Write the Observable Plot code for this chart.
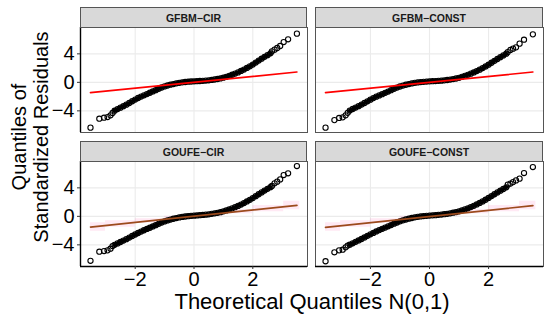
<!DOCTYPE html>
<html><head><meta charset="utf-8">
<script src="https://cdn.jsdelivr.net/npm/d3@7"></script>
<script src="https://cdn.jsdelivr.net/npm/@observablehq/plot@0.6"></script>
<style>
body{margin:0;background:#fff;}
#chart{position:relative;width:550px;height:320px;font-family:"Liberation Sans",Arial,sans-serif;overflow:hidden;background:#fff}
.strip{position:absolute;box-sizing:border-box;background:#d9d9d9;border:1px solid #555;display:flex;align-items:center;justify-content:center;font-size:10.5px;font-weight:bold;color:#1a1a1a}
.panel{position:absolute}
.title{position:absolute;color:#000;white-space:nowrap}
</style></head><body><div id="chart"></div>
<script>
// ---- data ----
const panelNames = ["GFBM\u2212CIR", "GFBM\u2212CONST", "GOUFE\u2212CIR", "GOUFE\u2212CONST"];
const xTicks = [-2, 0, 2];
const yTicks = [-4, 0, 4];
const xDomain = [-3.86, 3.86];
const yDomain = [-7.04, 7.7];

// theoretical quantiles N(0,1): 6 left-tail, 54 dense, 7 right-tail
const theoQuantiles = [-3.52,-3.22,-3.06,-2.94,-2.84,-2.77,
 -2.7,-2.6,-2.5,-2.4,-2.3,-2.2,-2.1,-2.0,-1.9,-1.8,-1.7,-1.6,-1.5,-1.4,-1.3,-1.2,-1.1,-1.0,-0.9,-0.8,-0.7,-0.6,-0.5,-0.4,-0.3,-0.2,-0.1,0.0,
 0.1,0.2,0.3,0.4,0.5,0.6,0.7,0.8,0.9,1.0,1.1,1.2,1.3,1.4,1.5,1.6,1.7,1.8,1.9,2.0,2.1,2.2,2.3,2.4,2.5,2.6,
 2.65,2.74,2.83,2.93,3.05,3.2,3.5];
const denseFirst = 6, denseLast = 59;

const sampleGFBM_CIR = [-6.36,-5.1,-4.96,-4.87,-4.63,-4.3,
 -3.98,-3.75,-3.55,-3.35,-3.13,-2.9,-2.65,-2.42,-2.2,-2.0,-1.82,-1.65,-1.46,-1.28,-1.1,-0.9,-0.72,-0.57,-0.44,-0.33,-0.24,-0.14,-0.06,0.0,0.05,0.09,0.12,0.15,
 0.17,0.19,0.22,0.25,0.29,0.34,0.4,0.47,0.55,0.65,0.78,0.92,1.07,1.23,1.4,1.6,1.8,2.02,2.25,2.5,2.78,3.06,3.32,3.58,3.82,4.08,
 4.35,4.59,4.82,5.1,5.66,6.04,6.84];
const sampleGFBM_CONST = [-6.36,-5.3,-5.0,-4.91,-4.63,-4.28,
 -3.96,-3.74,-3.54,-3.34,-3.12,-2.9,-2.66,-2.43,-2.21,-2.01,-1.83,-1.66,-1.47,-1.29,-1.1,-0.91,-0.73,-0.58,-0.45,-0.34,-0.24,-0.15,-0.07,-0.01,0.04,0.08,0.11,0.14,
 0.16,0.18,0.21,0.24,0.28,0.33,0.39,0.46,0.54,0.64,0.77,0.91,1.06,1.22,1.39,1.58,1.78,2.0,2.23,2.48,2.75,3.02,3.28,3.54,3.78,4.02,
 4.25,4.55,4.73,4.91,5.43,5.99,6.74];
const sampleGOUFE_CIR = [-6.24,-4.96,-4.87,-4.77,-4.54,-4.17,
 -4.0,-3.8,-3.6,-3.4,-3.2,-2.98,-2.76,-2.55,-2.34,-2.14,-1.95,-1.77,-1.6,-1.42,-1.24,-1.05,-0.87,-0.71,-0.57,-0.45,-0.34,-0.24,-0.15,-0.08,-0.02,0.03,0.07,0.1,
 0.13,0.16,0.2,0.24,0.29,0.35,0.42,0.5,0.59,0.7,0.83,0.97,1.12,1.29,1.47,1.66,1.87,2.09,2.32,2.57,2.83,3.1,3.36,3.62,3.86,4.1,
 4.26,4.63,4.87,5.19,5.8,6.04,7.06];
const sampleGOUFE_CONST = [-6.3,-5.05,-4.77,-4.68,-4.35,-4.1,
 -3.98,-3.78,-3.58,-3.38,-3.18,-2.96,-2.74,-2.53,-2.32,-2.12,-1.93,-1.75,-1.58,-1.4,-1.22,-1.03,-0.86,-0.7,-0.56,-0.44,-0.33,-0.23,-0.14,-0.07,-0.01,0.04,0.08,0.11,
 0.14,0.17,0.21,0.25,0.3,0.36,0.43,0.51,0.6,0.71,0.84,0.98,1.13,1.3,1.48,1.67,1.88,2.1,2.33,2.58,2.84,3.1,3.36,3.6,3.84,4.08,
 4.45,4.6,4.81,5.05,5.29,6.08,6.92];

// reference (qq) lines: end points
const lineX = [-3.52, 3.5];
const lineGFBM_CIR = [-1.45, 1.45];
const lineGFBM_CONST = [-1.45, 1.45];
const lineGOUFE_CIR = [-1.5, 1.54];
const lineGOUFE_CONST = [-1.54, 1.5];

// confidence band (GOUFE panels)
const bandX = [-3.52, -2.5, -1.5, -0.5, 0.5, 1.5, 2.5, 3.6];
const bandLo = [-2.1, -1.52, -0.94, -0.43, 0.01, 0.36, 0.64, 0.93];
const bandHi = [-0.9, -0.62, -0.34, 0.01, 0.45, 0.96, 1.54, 2.13];

// ---- layout ----
const samples = [sampleGFBM_CIR, sampleGFBM_CONST, sampleGOUFE_CIR, sampleGOUFE_CONST];
const lines = [lineGFBM_CIR, lineGFBM_CONST, lineGOUFE_CIR, lineGOUFE_CONST];
const lineColors = ["#ff0000", "#ff0000", "#9c4a1c", "#9c4a1c"];
const hasBand = [false, false, true, true];

const colLeft = [80, 315], colWidth = [227, 228];
const rowTop = [27, 161], plotH = 105, stripH = 20;
const chart = document.getElementById("chart");
const FONT = '"Liberation Sans", Arial, sans-serif';

panelNames.forEach((name, i) => {
  const col = i % 2, row = Math.floor(i / 2);
  const pts = theoQuantiles.map((q, k) => ({x: q, y: samples[i][k], k}));
  const dense = pts.filter(d => d.k >= denseFirst && d.k <= denseLast);
  const lineRows = lineX.map((x, k) => ({x, y: lines[i][k]}));
  const bandRows = bandX.map((x, k) => ({x, lo: bandLo[k], hi: bandHi[k]}));

  const mL = col === 0 ? 80 : 1;
  const mB = row === 1 ? 32 : 1;
  const marks = [
    Plot.gridX(xTicks, {stroke: "#ebebeb", strokeOpacity: 1, strokeWidth: 1.1}),
    Plot.gridY(yTicks, {stroke: "#ebebeb", strokeOpacity: 1, strokeWidth: 1.1}),
  ];
  if (hasBand[i]) marks.push(Plot.areaY(bandRows, {x: "x", y1: "lo", y2: "hi", fill: "#ff3399", fillOpacity: 0.11, curve: "step"}));
  marks.push(
    Plot.line(dense, {x: "x", y: "y", stroke: "#000", strokeWidth: 4.2}),
    Plot.dot(pts, {x: "x", y: "y", r: 2.6, stroke: "#000", strokeWidth: 1.1, fill: "none"}),
    Plot.line(lineRows, {x: "x", y: "y", stroke: lineColors[i], strokeWidth: 1.7}),
    Plot.frame({stroke: "#555", strokeWidth: 1})
  );
  if (col === 0) marks.push(
    Plot.ruleX([xDomain[0]], {stroke: "#000", strokeWidth: 1.4}),
    Plot.axisY(yTicks, {fontSize: 20, tickSize: 3, tickPadding: 3, label: null, stroke: "#333", fill: "#000"})
  );
  if (row === 1) marks.push(
    Plot.ruleY([yDomain[0]], {stroke: "#000", strokeWidth: 1.4}),
    Plot.axisX(xTicks, {fontSize: 20, tickSize: 3, tickPadding: 2, label: null, stroke: "#333", fill: "#000"})
  );

  const svg = Plot.plot({
    width: mL + colWidth[col] + 1,
    height: 1 + plotH + mB,
    marginLeft: mL, marginRight: 1, marginTop: 1, marginBottom: mB,
    x: {domain: xDomain, axis: null},
    y: {domain: yDomain, axis: null},
    style: {fontFamily: FONT, background: "transparent", overflow: "visible", color: "#000"},
    marks
  });
  svg.classList.add("panel");
  svg.style.position = "absolute";
  svg.style.left = (col === 0 ? 0 : colLeft[col] - 1) + "px";
  svg.style.top = (rowTop[row] - 1) + "px";
  chart.appendChild(svg);

  const strip = document.createElement("div");
  strip.className = "strip";
  strip.textContent = name;
  strip.style.left = colLeft[col] + "px";
  strip.style.width = colWidth[col] + "px";
  strip.style.top = (rowTop[row] - stripH) + "px";
  strip.style.height = (stripH + 1) + "px";
  chart.appendChild(strip);
});

const xt = document.createElement("div");
xt.className = "title";
xt.textContent = "Theoretical Quantiles N(0,1)";
xt.style.cssText += "font-size:22px;line-height:22px;left:312px;top:291px;transform:translateX(-50%);";
chart.appendChild(xt);

const yt = document.createElement("div");
yt.className = "title";
yt.innerHTML = "Quantiles of<br>Standardized Residuals";
yt.style.cssText += "font-size:20px;line-height:22px;text-align:center;left:30px;top:137px;transform:translate(-50%,-50%) rotate(-90deg);";
chart.appendChild(yt);
</script></body></html>
